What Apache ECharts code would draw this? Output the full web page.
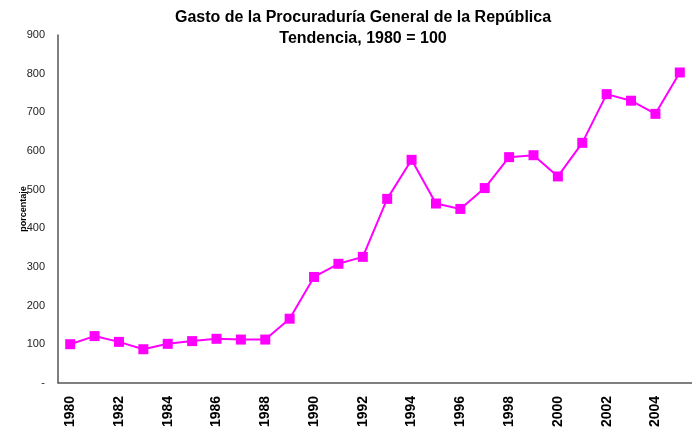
<!DOCTYPE html>
<html>
<head>
<meta charset="utf-8">
<script src="https://cdn.jsdelivr.net/npm/echarts@6/dist/echarts.min.js"></script>
<style>
  html, body { margin: 0; padding: 0; background: #fff; }
  #main { width: 692px; height: 430px; }
</style>
</head>
<body>
<div id="main"></div>
<script>
// datos
var years = ['1980','1981','1982','1983','1984','1985','1986','1987','1988','1989',
  '1990','1991','1992','1993','1994','1995','1996','1997','1998','1999',
  '2000','2001','2002','2003','2004','2005'];
var gasto = [100, 121, 106, 87, 101, 108, 114, 112, 112, 166,
  274, 308, 326, 476, 577, 464, 450, 504, 584, 589,
  534, 621, 747, 730, 696, 803];
var titulo = 'Gasto de la Procuraduría General de la República\nTendencia, 1980 = 100';

var chart = echarts.init(document.getElementById('main'));
var option = {
  animation: false,
  title: {
    text: titulo,
    left: 358,
    textAlign: 'center',
    top: 2,
    textStyle: {
      fontFamily: 'Liberation Sans',
      fontSize: 16,
      fontWeight: 'bold',
      color: '#000',
      lineHeight: 21
    }
  },
  grid: {
    left: 58,
    top: 35,
    width: 639,
    height: 348
  },
  xAxis: {
    type: 'category',
    data: years,
    boundaryGap: true,
    axisLine: { lineStyle: { color: '#555', width: 1.5 } },
    axisTick: { show: false },
    axisLabel: {
      interval: 1,
      rotate: 90,
      margin: 13,
      fontFamily: 'Liberation Sans',
      fontSize: 14,
      fontWeight: 'bold',
      color: '#000'
    }
  },
  yAxis: {
    type: 'value',
    min: 0,
    max: 900,
    interval: 100,
    name: 'porcentaje',
    nameLocation: 'middle',
    nameGap: 30,
    nameMoveOverlap: false,
    nameTextStyle: {
      fontFamily: 'Liberation Sans',
      fontSize: 9,
      fontWeight: 'bold',
      color: '#000'
    },
    axisLine: { show: true, lineStyle: { color: '#555', width: 1.5 } },
    axisTick: { show: false },
    splitLine: { show: false },
    axisLabel: {
      margin: 13,
      fontFamily: 'Liberation Sans',
      fontSize: 11,
      color: '#222',
      formatter: function (v) { return v === 0 ? '-' : v; }
    }
  },
  series: [{
    name: 'Gasto',
    type: 'line',
    data: gasto,
    symbol: 'rect',
    symbolSize: 10,
    lineStyle: { color: '#ff00ff', width: 2 },
    itemStyle: { color: '#ff00ff' }
  }]
};
chart.setOption(option);
</script>
</body>
</html>
